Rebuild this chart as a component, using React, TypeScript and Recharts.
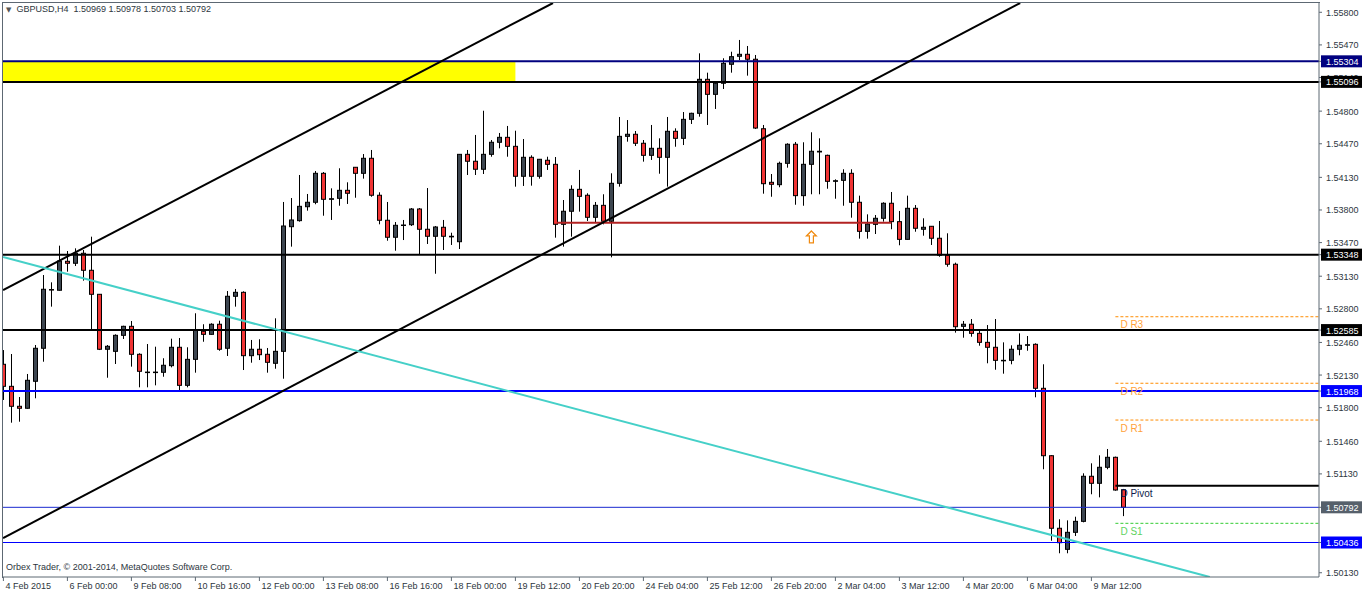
import React from 'react'
import {
  ComposedChart,
  Bar,
  XAxis,
  YAxis,
  ReferenceLine,
  ReferenceArea,
  ReferenceDot,
} from 'recharts'

const FONT = '"Liberation Sans", Arial, sans-serif'

// GBPUSD H4 bars
const opens = [
  1.52239, 1.52016, 1.51814, 1.51794, 1.52067, 1.52401, 1.52995, 1.52988, 1.53281, 1.53261,
  1.53362, 1.5319, 1.52947, 1.52391, 1.5237, 1.52532, 1.52623, 1.5234, 1.5216, 1.52158,
  1.52158, 1.52225, 1.52411, 1.52026, 1.52289, 1.52573, 1.52542, 1.52644, 1.52401, 1.52927,
  1.52967, 1.52326, 1.52391, 1.5234, 1.52249, 1.5237, 1.53631, 1.53692, 1.53833, 1.53878,
  1.54171, 1.53908, 1.53918, 1.53999, 1.54232, 1.54171, 1.54323, 1.53949, 1.53696, 1.53524,
  1.53645, 1.53651, 1.5381, 1.53605, 1.53534, 1.53625, 1.53534, 1.53479, 1.54363, 1.54293,
  1.54212, 1.54363, 1.54485, 1.54535, 1.54444, 1.54141, 1.54333, 1.54141, 1.54303, 1.54262,
  1.53655, 1.53787, 1.54009, 1.53949, 1.53726, 1.53847, 1.53686, 1.5407, 1.54545, 1.54566,
  1.54475, 1.54353, 1.54424, 1.54333, 1.54596, 1.54525, 1.54717, 1.54778, 1.55122, 1.5497,
  1.55082, 1.55274, 1.55355, 1.55375, 1.55325, 1.54622, 1.5408, 1.54056, 1.54272, 1.54465,
  1.53945, 1.54262, 1.54394, 1.54353, 1.5409, 1.541, 1.54171, 1.53878, 1.53584, 1.53655,
  1.53716, 1.53868, 1.53682, 1.53503, 1.53817, 1.53605, 1.53635, 1.53514, 1.53342, 1.53251,
  1.52623, 1.52644, 1.52552, 1.52461, 1.52411, 1.52279, 1.52279, 1.52391, 1.52431, 1.52441,
  1.51996, 1.51314, 1.5058, 1.50367, 1.50539, 1.5065, 1.51106, 1.51035, 1.51197, 1.51298,
  1.50969,
]
const highs = [
  1.52383, 1.52343, 1.51908, 1.52141, 1.52434, 1.53142, 1.53068, 1.53439, 1.53385, 1.53412,
  1.53395, 1.5353, 1.5295, 1.52434, 1.52542, 1.52629, 1.52677, 1.5235, 1.52444, 1.52417,
  1.523, 1.52498, 1.52505, 1.52411, 1.52755, 1.52644, 1.52654, 1.5268, 1.5298, 1.53001,
  1.52977, 1.52485, 1.52492, 1.52404, 1.52704, 1.53881, 1.53921, 1.54154, 1.53962, 1.54194,
  1.54184, 1.54019, 1.54222, 1.5408, 1.54235, 1.54366, 1.54407, 1.53979, 1.53881, 1.53678,
  1.53699, 1.5382, 1.5382, 1.54022, 1.53638, 1.53699, 1.5357, 1.54366, 1.54407, 1.54559,
  1.54804, 1.54508, 1.54579, 1.5465, 1.54602, 1.54518, 1.54353, 1.54316, 1.54339, 1.54336,
  1.53901, 1.5405, 1.54205, 1.53969, 1.53881, 1.53959, 1.54171, 1.54741, 1.5471, 1.54599,
  1.54508, 1.5466, 1.54525, 1.54741, 1.54626, 1.54791, 1.54784, 1.55385, 1.55189, 1.55098,
  1.55335, 1.55401, 1.5552, 1.55459, 1.55368, 1.5466, 1.54164, 1.54289, 1.54475, 1.54488,
  1.54485, 1.54586, 1.54525, 1.5436, 1.5411, 1.54212, 1.54212, 1.53945, 1.53756, 1.53749,
  1.53878, 1.53982, 1.5379, 1.53945, 1.5385, 1.53716, 1.53638, 1.53689, 1.53564, 1.53267,
  1.52677, 1.52697, 1.52576, 1.52636, 1.52697, 1.52461, 1.52431, 1.52552, 1.52525, 1.52451,
  1.52239, 1.5132, 1.50671, 1.5066, 1.50697, 1.51136, 1.51237, 1.51318, 1.51382, 1.51305,
  1.50978,
]
const lows = [
  1.51878, 1.51648, 1.51658, 1.5179, 1.51895, 1.52265, 1.52822, 1.52985, 1.53176, 1.53233,
  1.53085, 1.52593, 1.52383, 1.52103, 1.52242, 1.52495, 1.52215, 1.52006, 1.52006, 1.52026,
  1.52113, 1.52208, 1.51966, 1.52006, 1.52154, 1.52467, 1.52538, 1.52376, 1.52323, 1.52822,
  1.52181, 1.52255, 1.52282, 1.52154, 1.52194, 1.52093, 1.53429, 1.53682, 1.53793, 1.53858,
  1.53742, 1.53699, 1.53843, 1.53861, 1.53924, 1.54117, 1.53934, 1.53655, 1.53489, 1.53388,
  1.53496, 1.53638, 1.53352, 1.53456, 1.53155, 1.53395, 1.53446, 1.53405, 1.54154, 1.54154,
  1.54164, 1.54339, 1.54424, 1.54339, 1.54036, 1.54043, 1.54046, 1.54117, 1.54205, 1.5352,
  1.53429, 1.5353, 1.53783, 1.53689, 1.53675, 1.53655, 1.53321, 1.54036, 1.54491, 1.54447,
  1.54289, 1.54306, 1.54167, 1.54036, 1.5444, 1.54457, 1.5467, 1.54744, 1.5466, 1.54822,
  1.55024, 1.55189, 1.55317, 1.55159, 1.54619, 1.53965, 1.53934, 1.5403, 1.54228, 1.53853,
  1.53843, 1.53959, 1.53959, 1.54015, 1.53914, 1.53843, 1.53722, 1.5351, 1.5351, 1.53557,
  1.53682, 1.53605, 1.53443, 1.535, 1.5358, 1.5354, 1.53446, 1.53327, 1.53226, 1.52559,
  1.52508, 1.52518, 1.52427, 1.52249, 1.52184, 1.52144, 1.52239, 1.5233, 1.52376, 1.51905,
  1.51177, 1.50454, 1.50327, 1.50327, 1.50502, 1.5064, 1.50924, 1.50893, 1.51177, 1.5096,
  1.50703,
]
const closes = [
  1.52016, 1.51814, 1.51794, 1.52077, 1.52401, 1.52998, 1.52991, 1.53284, 1.53261, 1.53362,
  1.5319, 1.52947, 1.52391, 1.52421, 1.52532, 1.52623, 1.5234, 1.52168, 1.52158, 1.5216,
  1.52229, 1.52411, 1.52026, 1.52289, 1.52586, 1.52542, 1.52644, 1.52391, 1.52927, 1.52967,
  1.52326, 1.52391, 1.52336, 1.52259, 1.5237, 1.53638, 1.53699, 1.53837, 1.53878, 1.54171,
  1.53908, 1.53914, 1.53999, 1.53969, 1.54171, 1.54323, 1.53949, 1.53696, 1.53524, 1.53645,
  1.53648, 1.5381, 1.53605, 1.53534, 1.53628, 1.53534, 1.53528, 1.54363, 1.54293, 1.54212,
  1.54363, 1.54485, 1.54535, 1.54444, 1.54141, 1.54333, 1.54141, 1.54313, 1.54262, 1.53655,
  1.53787, 1.54009, 1.53938, 1.53726, 1.53847, 1.53686, 1.5407, 1.54545, 1.54566, 1.54475,
  1.54353, 1.54424, 1.54333, 1.54596, 1.54525, 1.54717, 1.54778, 1.55122, 1.5497, 1.55082,
  1.55284, 1.55351, 1.55375, 1.55325, 1.54629, 1.54066, 1.5406, 1.54272, 1.54465, 1.53945,
  1.54262, 1.54394, 1.54387, 1.5409, 1.54096, 1.54171, 1.53878, 1.53584, 1.53658, 1.53716,
  1.53868, 1.53682, 1.53503, 1.53817, 1.53615, 1.53625, 1.53514, 1.53342, 1.53251, 1.52619,
  1.52644, 1.52552, 1.52461, 1.52411, 1.52279, 1.52276, 1.52391, 1.52431, 1.52437, 1.51996,
  1.51314, 1.5058, 1.50434, 1.50539, 1.5065, 1.51106, 1.51035, 1.51197, 1.51298, 1.50967,
  1.50792,
]

const dateTickBars = [0, 8, 16, 24, 32, 40, 48, 56, 64, 72, 80, 88, 96, 104, 112, 120, 128, 136]
const dateTickLabels = [
  '4 Feb 2015', '6 Feb 00:00', '9 Feb 08:00', '10 Feb 16:00', '12 Feb 00:00', '13 Feb 08:00',
  '16 Feb 16:00', '18 Feb 00:00', '19 Feb 12:00', '20 Feb 20:00', '24 Feb 04:00', '25 Feb 12:00',
  '26 Feb 20:00', '2 Mar 04:00', '3 Mar 12:00', '4 Mar 20:00', '6 Mar 04:00', '9 Mar 12:00',
]

const priceTicks = [
  1.558, 1.5547, 1.5514, 1.548, 1.5447, 1.5413, 1.538, 1.5347, 1.5313, 1.528, 1.5246, 1.5213,
  1.518, 1.5146, 1.5113, 1.5013,
]

// horizontal levels drawn on the chart + their tags on the price scale
const levelPrices = [1.55304, 1.55096, 1.53348, 1.52585, 1.51968, 1.50792, 1.50436]
const levelColors = ['#00007f', '#000000', '#000000', '#000000', '#0000ff', '#1a2ad0', '#0000ff']
const levelWidths = [2, 2, 2, 2, 2, 1, 1]
const tagColors = ['#00007f', '#000000', '#000000', '#000000', '#0000ff', '#56606b', '#0000ff']

// daily pivots
const pivotNames = ['D R3', 'D R2', 'D R1', 'D Pivot', 'D S1']
const pivotPrices = [1.5272, 1.52047, 1.51675, 1.51011, 1.5063]
const pivotStartBar = 139

// trend lines: [bar, price] -> [bar, price]
const trendFrom = [[-0.04, 1.5299], [-0.04, 1.50481], [-0.04, 1.53324]]
const trendTo = [[68.7, 1.55894], [127.1, 1.55894], [150.8, 1.50087]]

const supportFrom = [69.2, 1.53671]
const supportTo = [111, 1.53671]
const zoneBars = [-0.05, 64]
const zonePrices = [1.55096, 1.55304]
const arrowPoint = [101, 1.53527]

const X_DOMAIN = [-0.05, 164.45]
const Y_DOMAIN = [1.50087, 1.55894]

const candles = opens.map((o, i) => ({
  i,
  open: o,
  high: highs[i],
  low: lows[i],
  close: closes[i],
}))

const Candle = (props: any) => {
  const { x, y, width, height, payload } = props
  if (!payload || height == null) return null
  const top = Math.min(y, y + height)
  const h = Math.abs(height)
  const { open, close, high, low } = payload
  const k = high > low ? h / (high - low) : 0
  const py = (v: number) => top + (high - v) * k
  const cx = Math.round(x + width / 2) + 0.5
  const bull = close > open
  const bTop = py(Math.max(open, close))
  const bBot = py(Math.min(open, close))
  return (
    <g>
      <line x1={cx} x2={cx} y1={top} y2={top + h} stroke="#000" strokeWidth={1} />
      <rect
        x={cx - 2}
        y={bTop}
        width={4}
        height={Math.max(bBot - bTop, 0.5)}
        fill={bull ? '#3d4650' : '#f03434'}
        stroke="#000"
        strokeWidth={1}
      />
    </g>
  )
}

const DateTick = ({ x, y, payload }: any) => {
  const k = dateTickBars.indexOf(payload.value)
  return (
    <text x={x + 2} y={y} dy="0.71em" textAnchor="start" fontSize={9} fontFamily={FONT} fill="#2d3640">
      {dateTickLabels[k]}
    </text>
  )
}

const PriceTick = ({ x, y, payload }: any) => {
  const v = payload.value
  const li = levelPrices.indexOf(v)
  if (li >= 0) {
    return (
      <g>
        <rect x={x - 5} y={y - 6} width={44} height={12} fill={tagColors[li]} />
        <text x={x} y={y + 3.5} textAnchor="start" fontSize={9} fontFamily={FONT} fill="#ffffff">
          {v.toFixed(5)}
        </text>
      </g>
    )
  }
  return (
    <text x={x} y={y + 3.5} textAnchor="start" fontSize={9} fontFamily={FONT} fill="#2d3640">
      {v.toFixed(5)}
    </text>
  )
}

const pivotColor = (name: string) =>
  name.includes('R') ? '#ff8c00' : name.includes('S') ? '#33cc33' : '#000000'
const pivotTextColor = (name: string) =>
  name.includes('R') ? '#ffa23a' : name.includes('S') ? '#5fd35f' : '#101c4c'

export default function App() {
  return (
    <div style={{ position: 'absolute', left: 0, top: 0, width: 1362, height: 594, background: '#fff' }}>
      <ComposedChart
        width={1362}
        height={594}
        data={candles}
        margin={{ top: 3, right: 0, bottom: 0, left: 3 }}
      >
        <XAxis
          dataKey="i"
          type="number"
          domain={X_DOMAIN}
          allowDataOverflow
          ticks={dateTickBars}
          interval={0}
          height={17}
          tickSize={4}
          tickMargin={2}
          stroke="#5d6873"
          tick={<DateTick />}
        />
        <YAxis
          orientation="right"
          type="number"
          domain={Y_DOMAIN}
          allowDataOverflow
          ticks={[...priceTicks, ...levelPrices]}
          interval={0}
          width={43}
          tickSize={3}
          tickMargin={4}
          stroke="#5d6873"
          tick={<PriceTick />}
        />
        <ReferenceArea
          x1={zoneBars[0]}
          x2={zoneBars[1]}
          y1={zonePrices[0]}
          y2={zonePrices[1]}
          fill="#ffff00"
          fillOpacity={1}
          stroke="none"
          ifOverflow="hidden"
        />
        {levelPrices.map((p, k) => (
          <ReferenceLine key={p} y={p} stroke={levelColors[k]} strokeWidth={levelWidths[k]} />
        ))}
        <ReferenceLine
          segment={[
            { x: supportFrom[0], y: supportFrom[1] },
            { x: supportTo[0], y: supportTo[1] },
          ]}
          stroke="#b22222"
          strokeWidth={2}
          ifOverflow="hidden"
        />
        {trendFrom.map((f, k) => (
          <ReferenceLine
            key={k}
            segment={[
              { x: f[0], y: f[1] },
              { x: trendTo[k][0], y: trendTo[k][1] },
            ]}
            stroke={k === 2 ? '#45d0c8' : '#000000'}
            strokeWidth={2}
            ifOverflow="hidden"
          />
        ))}
        {pivotNames.map((n, k) => (
          <ReferenceLine
            key={n}
            segment={[
              { x: pivotStartBar, y: pivotPrices[k] },
              { x: X_DOMAIN[1], y: pivotPrices[k] },
            ]}
            stroke={pivotColor(n)}
            strokeWidth={n === 'D Pivot' ? 2 : 1}
            strokeDasharray={n === 'D Pivot' ? undefined : '3 2'}
            ifOverflow="hidden"
          />
        ))}
        <Bar
          dataKey={(d: any) => [d.low, d.high]}
          barSize={6}
          shape={<Candle />}
          isAnimationActive={false}
        />
        {pivotNames.map((n, k) => (
          <ReferenceDot
            key={'lbl' + n}
            x={pivotStartBar}
            y={pivotPrices[k]}
            r={0}
            ifOverflow="visible"
            shape={(p: any) => (
              <text x={p.cx + 5} y={p.cy + 11.5} fontSize={10} fontFamily={FONT} fill={pivotTextColor(n)}>
                {n}
              </text>
            )}
          />
        ))}
        <ReferenceDot
          x={arrowPoint[0]}
          y={arrowPoint[1]}
          r={0}
          ifOverflow="visible"
          shape={(p: any) => (
            <path
              d={`M${p.cx},${p.cy - 6} L${p.cx + 5},${p.cy - 1} L${p.cx + 2},${p.cy - 1} L${p.cx + 2},${p.cy + 6} L${p.cx - 2},${p.cy + 6} L${p.cx - 2},${p.cy - 1} L${p.cx - 5},${p.cy - 1} Z`}
              fill="#ffffff"
              stroke="#f08a10"
              strokeWidth={1.2}
            />
          )}
        />
      </ComposedChart>
      <div
        style={{
          position: 'absolute',
          left: 2,
          top: 2,
          width: 1317,
          height: 575,
          borderLeft: '1px solid #5d6873',
          borderTop: '1px solid #5d6873',
          pointerEvents: 'none',
        }}
      />
      <div
        style={{
          position: 'absolute',
          left: 6,
          top: 4,
          fontFamily: FONT,
          fontSize: 9,
          color: '#2d3640',
          whiteSpace: 'pre',
        }}
      >
        <span style={{ fontSize: 7, color: '#555', fontFamily: '"DejaVu Sans", sans-serif' }}>▼</span>
        {'  GBPUSD,H4  1.50969 1.50978 1.50703 1.50792'}
      </div>
      <div
        style={{
          position: 'absolute',
          left: 6,
          top: 562,
          fontFamily: FONT,
          fontSize: 9,
          color: '#2d3640',
          whiteSpace: 'pre',
        }}
      >
        Orbex Trader, © 2001-2014, MetaQuotes Software Corp.
      </div>
    </div>
  )
}
